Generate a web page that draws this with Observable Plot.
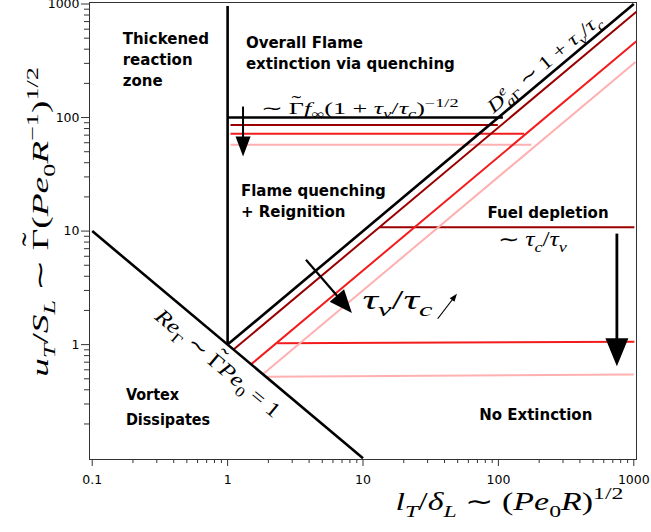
<!DOCTYPE html>
<html>
<head>
<meta charset="utf-8">
<script src="https://cdn.jsdelivr.net/npm/d3@7"></script>
<script src="https://cdn.jsdelivr.net/npm/@observablehq/plot@0.6"></script>
<style>
  body { margin: 0; background: #fff; }
  svg { display: block; }
</style>
</head>
<body>
<div id="chart"></div>
<script>
// ---------- data ----------
const xTickLabels = [0.1, 1, 10, 100, 1000];
const yTickLabels = [1, 10, 100, 1000];
const seriesNames = ["light", "red", "dark", "black"];
const seriesColors = ["#ffb0b0", "#f21c1c", "#9b0000", "#000000"];

// regime boundaries
const reLine = [{x1: 0.1, y1: 10, x2: 10, y2: 0.1}];          // Re_Gamma ~ 1
const thickLine = [{x1: 1, y1: 1, x2: 1, y2: 960}];           // l_T/delta_L ~ 1

// Da boundaries (slope 1)
const diagonals = [
  {series: "light", x1: 1.83, y1: 0.55, x2: 1030, y2: 309},
  {series: "red",   x1: 1.49, y1: 0.67, x2: 1045, y2: 470},
  {series: "dark",  x1: 1.106, y1: 0.904, x2: 1045, y2: 855},
  {series: "black", x1: 1, y1: 1, x2: 1000, y2: 1000}
];
// quenching limits (upper horizontals)
const upperLimits = [
  {series: "light", x1: 1.05, y1: 57.5, x2: 175, y2: 57.5},
  {series: "red",   x1: 1.05, y1: 72, x2: 155, y2: 72},
  {series: "dark",  x1: 1.05, y1: 86, x2: 99, y2: 86},
  {series: "black", x1: 1, y1: 100, x2: 108, y2: 100}
];
// fuel depletion limits (lower horizontals)
const lowerLimits = [
  {series: "light", x1: 1.92, y1: 0.52, x2: 1000, y2: 0.545},
  {series: "red",   x1: 2.33, y1: 1.03, x2: 1010, y2: 1.06},
  {series: "dark",  x1: 13.2, y1: 10.8, x2: 1010, y2: 10.8}
];
// arrows (start -> tip)
const arrows = [
  {x1: 1.3, y1: 125, x2: 1.3, y2: 45.3},
  {x1: 750, y1: 9.5, x2: 750, y2: 0.645},
  {x1: 3.79, y1: 5.59, x2: 8.28, y2: 1.90},
  {x1: 35.6, y1: 1.69, x2: 49.4, y2: 2.81}
];
// region names
const regionNotes = [
  {x: 0.168, y: 597, text: "Thickened\nreaction\nzone"},
  {x: 1.365, y: 557, text: "Overall Flame\nextinction via quenching"},
  {x: 1.254, y: 27.3, text: "Flame quenching\n+ Reignition"},
  {x: 83.2, y: 17.6, text: "Fuel depletion"},
  {x: 72.1, y: 0.2904, text: "No Extinction"}
];
const vortexNote = [{x: 0.1774, y: 0.466, text: "Vortex\nDissipates"}];
// scaling laws
const quenchLaw = [{x: 1.762, y: 120.7, text: "∼ Γ̃f_{∞}(1 + τ_{v}/τ_{c})^{−1/2}"}];
const daLaw = [{x: 217.9, y: 299.7, text: "D^{e}_{aΓ} ∼ 1 + τ_{v}/τ_{c}"}];
const depletionLaw = [{x: 98.6, y: 8.43, text: "∼ τ_{c}/τ_{v}"}];
const ratioNote = [{x: 9.93, y: 2.47, text: "τ_{v}/τ_{c}"}];
const reLaw = [{x: 0.848, y: 0.685, text: "Re_{Γ} ∼ Γ̃Pe_{0} = 1"}];
const xTitle = "l_{T}/δ_{L} ∼ (Pe_{0}R)^{1/2}";
const yTitle = "u_{T}/S_{L} ∼ Γ̃(Pe_{0}R^{−1})^{1/2}";

// ---------- layout ----------
const W = 651, H = 532;
const M = {left: 89, right: 15, top: 2, bottom: 73};
const xDomain = [0.0955, 1047];
const yDomain = [0.0973, 1031];

// rendered widths of the typeset formulas (px, along their baseline)
const formulaWidth = new Map([
  [quenchLaw[0].text, 198], [daLaw[0].text, 144], [depletionLaw[0].text, 71],
  [ratioNote[0].text, 71], [reLaw[0].text, 158], [xTitle, 228], [yTitle, 310]
]);

// minor ticks (unlabelled)
const minorX = [], minorY = [];
for (let e = -1; e <= 2; e++) for (let k = 2; k <= 9; k++) { minorX.push(k * 10 ** e); minorY.push(k * 10 ** e); }

// screen-space helpers for arrowheads (same mapping as the plot's scales)
const xs = d3.scaleLog(xDomain, [M.left, W - M.right]);
const ys = d3.scaleLog(yDomain, [H - M.bottom, M.top]);
function headSymbol(a, L, Wd) {
  const dx = xs(a.x2) - xs(a.x1), dy = ys(a.y2) - ys(a.y1);
  const n = Math.hypot(dx, dy), ux = dx / n, uy = dy / n;
  return {
    draw(ctx) {
      const bx = -ux * L, by = -uy * L;
      ctx.moveTo(0, 0);
      ctx.lineTo(bx - uy * Wd / 2, by + ux * Wd / 2);
      ctx.lineTo(bx + uy * Wd / 2, by - ux * Wd / 2);
      ctx.closePath();
    }
  };
}
const arrowStyles = [
  {sw: 2, L: 20, Wd: 15},
  {sw: 2.8, L: 28, Wd: 23},
  {sw: 2.2, L: 23, Wd: 19},
  {sw: 1.2, L: 8, Wd: 6}
];
const arrowMarks = arrows.flatMap((a, i) => {
  const s = arrowStyles[i];
  return [
    Plot.arrow([a], {x1: "x1", y1: "y1", x2: "x2", y2: "y2", headLength: 0, insetEnd: s.L * 0.8,
      stroke: "black", strokeWidth: s.sw, strokeLinecap: "butt"}),
    Plot.dot([a], {x: "x2", y: "y2", symbol: headSymbol(a, s.L, s.Wd), r: 5, fill: "black", stroke: "none"})
  ];
});

const sans = "DejaVu Sans";
const serif = "Liberation Serif";
const lineStyle = {x1: "x1", y1: "y1", x2: "x2", y2: "y2", stroke: "series",
  strokeWidth: d => d.series === "black" ? 2.6 : 2, strokeLinecap: "butt"};
const mathText = (data, opts) => Plot.text(data, {x: "x", y: "y", text: "text", fontFamily: serif, fill: "black", ...opts});

const chart = Plot.plot({
  width: W, height: H,
  marginLeft: M.left, marginRight: M.right, marginTop: M.top, marginBottom: M.bottom,
  x: {type: "log", domain: xDomain, label: null},
  y: {type: "log", domain: yDomain, label: null},
  color: {type: "ordinal", domain: seriesNames, range: seriesColors},
  style: {background: "white", overflow: "visible"},
  marks: [
    Plot.frame({stroke: "#333", strokeWidth: 1}),
    Plot.axisX({ticks: minorX, tickSize: 4, tickFormat: () => "", stroke: "#333", label: null}),
    Plot.axisX({ticks: xTickLabels, tickSize: 7, tickPadding: 9, tickFormat: d => String(d), stroke: "#333",
      fontSize: 12.5, fontFamily: sans, label: null}),
    Plot.axisY({ticks: minorY, tickSize: 5, tickFormat: () => "", stroke: "#333", label: null}),
    Plot.axisY({ticks: yTickLabels, tickSize: 8, tickPadding: 2, tickFormat: d => String(d), stroke: "#333",
      fontSize: 12.5, fontFamily: sans, label: null}),
    Plot.link(lowerLimits, lineStyle),
    Plot.link(upperLimits, lineStyle),
    Plot.link(diagonals, lineStyle),
    Plot.link(reLine, {x1: "x1", y1: "y1", x2: "x2", y2: "y2", stroke: "black", strokeWidth: 2.6}),
    Plot.link(thickLine, {x1: "x1", y1: "y1", x2: "x2", y2: "y2", stroke: "black", strokeWidth: 2.6}),
    ...arrowMarks,
    Plot.text(regionNotes, {x: "x", y: "y", text: "text", textAnchor: "start", lineAnchor: "top",
      fontSize: 15, fontWeight: "bold", fontFamily: sans, lineHeight: 1.4, fill: "black"}),
    Plot.text(vortexNote, {x: "x", y: "y", text: "text", textAnchor: "start", lineAnchor: "top",
      fontSize: 16, fontWeight: "bold", fontFamily: "DejaVu Sans Condensed", lineHeight: 1.56, fill: "black"}),
    mathText(quenchLaw, {textAnchor: "start", fontSize: 17}),
    mathText(daLaw, {textAnchor: "middle", fontSize: 19, rotate: -40}),
    mathText(depletionLaw, {textAnchor: "start", fontSize: 20}),
    mathText(ratioNote, {textAnchor: "start", fontSize: 27}),
    mathText(reLaw, {textAnchor: "middle", fontSize: 21, rotate: 40}),
    Plot.text([xTitle], {frameAnchor: "bottom-right", dx: -127, dy: 50, text: d => d, textAnchor: "middle",
      fontFamily: serif, fontSize: 25, fill: "black"}),
    Plot.text([yTitle], {frameAnchor: "left", dx: -49, dy: -9, text: d => d, textAnchor: "middle", rotate: -90,
      fontFamily: serif, fontSize: 24, fill: "black"})
  ]
});
document.getElementById("chart").appendChild(chart);

// ---------- typeset simple math markup (_{..} subscripts, ^{..} superscripts, italic letters) ----------
const SVGNS = "http://www.w3.org/2000/svg";
function parseMath(src) {
  const tokens = [];
  let i = 0, buf = "";
  while (i < src.length) {
    const c = src[i];
    if ((c === "_" || c === "^") && src[i + 1] === "{") {
      if (buf) { tokens.push({text: buf, level: 0}); buf = ""; }
      let j = i + 2, depth = 1, inner = "";
      while (j < src.length && depth > 0) {
        if (src[j] === "{") depth++;
        else if (src[j] === "}") { depth--; if (depth === 0) break; }
        inner += src[j]; j++;
      }
      tokens.push({text: inner, level: c === "_" ? -1 : 1});
      i = j + 1;
    } else { buf += c; i++; }
  }
  if (buf) tokens.push({text: buf, level: 0});
  return tokens;
}
const isItalic = ch => /[A-Za-z\u03b1-\u03c9]/.test(ch);
function typeset(textEl) {
  const src = textEl.textContent;
  if (!/[_^]\{/.test(src)) return;
  const fs = parseFloat(getComputedStyle(textEl).fontSize) || 16;
  while (textEl.firstChild) textEl.removeChild(textEl.firstChild);
  let shift = 0, prevSup = null, pdx = 0, pdy = 0;
  const add = (str, size, italic) => {
    const t = document.createElementNS(SVGNS, "tspan");
    t.textContent = str;
    t.setAttribute("font-size", size);
    t.setAttribute("font-style", italic ? "italic" : "normal");
    if (pdx) t.setAttribute("dx", pdx);
    if (pdy) t.setAttribute("dy", pdy);
    pdx = 0; pdy = 0;
    textEl.appendChild(t);
    return t;
  };
  parseMath(src).forEach(tok => {
    const target = tok.level === -1 ? 0.28 * fs : tok.level === 1 ? -0.42 * fs : 0;
    const size = tok.level === 0 ? fs : 0.7 * fs;
    if (target !== shift) { pdy += target - shift; shift = target; }
    if (tok.level === -1 && prevSup) pdx -= prevSup.reduce((s, e) => s + e.getComputedTextLength(), 0);
    const made = [];
    const chars = Array.from(tok.text);
    let run = "", runIt = null;
    const flush = () => { if (run) made.push(add(run, size, runIt)); run = ""; runIt = null; };
    for (let k = 0; k < chars.length; k++) {
      const ch = chars[k];
      if (ch === "\u0303") continue;
      if (chars[k + 1] === "\u0303") {
        // base glyph with a tilde placed above it
        flush();
        const base = add(ch, size, isItalic(ch));
        made.push(base);
        const wB = base.getComputedTextLength();
        const lift = 0.3 * size;
        const acc = add("˜", size * 1.1, false);
        const wA = acc.getComputedTextLength();
        acc.setAttribute("dx", -(wB + wA) / 2);
        acc.setAttribute("dy", -lift);
        pdx += (wB - wA) / 2;
        pdy += lift;
        continue;
      }
      const it = isItalic(ch);
      if (run && it !== runIt) flush();
      run += ch; runIt = it;
    }
    flush();
    prevSup = tok.level === 1 ? made : null;
  });
  // stretch horizontally (along the baseline) to the formula's width in the reference
  const targetW = formulaWidth.get(src);
  if (!targetW) return;
  let w = 0;
  try { w = textEl.getBBox().width; } catch (e) { w = 0; }
  if (!(w > 1)) w = Array.from(textEl.childNodes).reduce((s, e) => s + (e.getComputedTextLength ? e.getComputedTextLength() : 0), 0);
  const sx = targetW / w;
  if (!isFinite(sx) || sx <= 0) return;
  const x = parseFloat(textEl.getAttribute("x")) || 0, y = parseFloat(textEl.getAttribute("y")) || 0;
  const list = textEl.transform.baseVal;
  const m0 = list.numberOfItems ? list.consolidate().matrix : null;
  const base = m0 ? new DOMMatrix([m0.a, m0.b, m0.c, m0.d, m0.e, m0.f]) : new DOMMatrix();
  const m = base.translate(x, y).scale(sx, 1).translate(-x, -y);
  if ([m.a, m.b, m.c, m.d, m.e, m.f].every(Number.isFinite))
    textEl.setAttribute("transform", `matrix(${m.a},${m.b},${m.c},${m.d},${m.e},${m.f})`);
}
chart.querySelectorAll("text").forEach(typeset);
</script>
</body>
</html>
